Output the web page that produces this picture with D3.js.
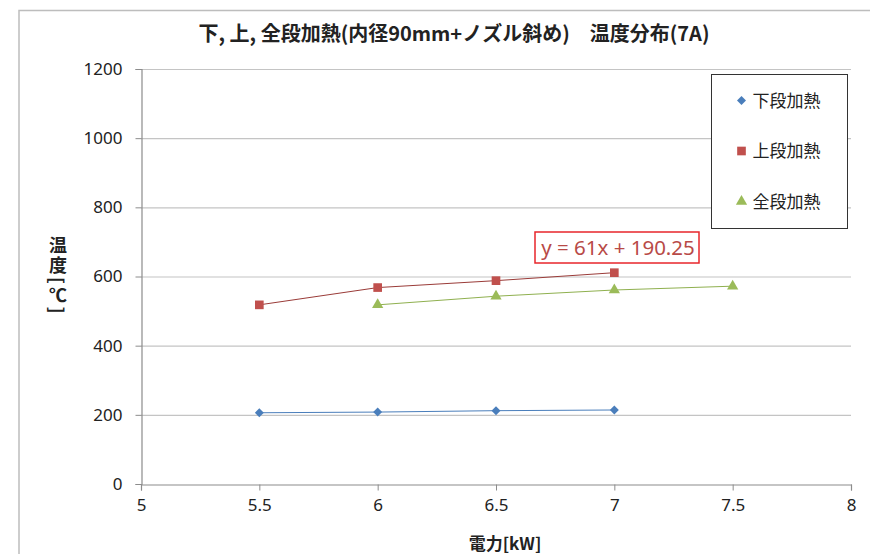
<!DOCTYPE html>
<html lang="ja">
<head>
<meta charset="utf-8">
<script src="https://d3js.org/d3.v7.min.js"></script>
<style>
  body { margin: 0; background: #fff; }
  svg { display: block; }
  .tick text { font-family: "Noto Sans", sans-serif; font-size: 17px; fill: #222; }
  .ytitle { writing-mode: vertical-rl; text-orientation: mixed; letter-spacing: 2.5px; }
</style>
</head>
<body>
<svg id="chart" width="870" height="554"></svg>
<script>
// data
const seriesNames = ["下段加熱", "上段加熱", "全段加熱"];
const lowerX = [5.5, 6, 6.5, 7];
const lowerY = [206, 208, 212, 214];
const upperX = [5.5, 6, 6.5, 7];
const upperY = [518, 568, 588, 611];
const allX = [6, 6.5, 7, 7.5];
const allY = [518, 543, 561, 572];
const xTicks = [5, 5.5, 6, 6.5, 7, 7.5, 8];
const yTicks = [0, 200, 400, 600, 800, 1000, 1200];
const trendText = "y = 61x + 190.25";

const svg = d3.select("#chart");
const margin = {left: 141, right: 19, top: 69, bottom: 70};
const W = 870, H = 554;
const jp = "Noto Sans CJK JP, sans-serif";

// outer chart frame
svg.append("path")
  .attr("d", `M19,${H} V10.5 H${W}`)
  .attr("fill", "none").attr("stroke", "#bdbdbd").attr("stroke-width", 1.5);

const x = d3.scaleLinear().domain([5, 8]).range([margin.left, W - margin.right]);
const y = d3.scaleLinear().domain([0, 1200]).range([H - margin.bottom, margin.top]);

// gridlines
svg.append("g").selectAll("line").data(yTicks.slice(1)).join("line")
  .attr("x1", x(5)).attr("x2", x(8))
  .attr("y1", d => y(d) + 0.5).attr("y2", d => y(d) + 0.5)
  .attr("stroke", "#c4c4c4").attr("stroke-width", 1.2);

// axes
const xAxis = svg.append("g").attr("transform", `translate(0,${y(0) + 0.5})`)
  .call(d3.axisBottom(x).tickValues(xTicks).tickSize(6).tickPadding(8).tickFormat(d3.format("")));
const yAxis = svg.append("g").attr("transform", `translate(${x(5) + 0.5},0)`)
  .call(d3.axisLeft(y).tickValues(yTicks).tickSize(6).tickPadding(13).tickFormat(d3.format("")));
[xAxis, yAxis].forEach(a => {
  a.select(".domain").attr("stroke", "#8c8c8c").attr("stroke-width", 1.2);
  a.selectAll(".tick line").attr("stroke", "#8c8c8c");
});

const diamond = {draw(ctx, size) { const r = Math.sqrt(size / 2); ctx.moveTo(0, -r); ctx.lineTo(r, 0); ctx.lineTo(0, r); ctx.lineTo(-r, 0); ctx.closePath(); }};

const series = [
  {name: seriesNames[0], xs: lowerX, ys: lowerY, color: "#4a7ebb", line: "#4a7ebb", shape: diamond, size: 40},
  {name: seriesNames[1], xs: upperX, ys: upperY, color: "#c0504d", line: "#9a3b38", shape: d3.symbolSquare, size: 75},
  {name: seriesNames[2], xs: allX, ys: allY, color: "#9bbb59", line: "#8fb04f", shape: d3.symbolTriangle, size: 55}
];

const line = d3.line().x(d => x(d[0])).y(d => y(d[1]));
series.forEach(s => {
  const pts = s.xs.map((v, i) => [v, s.ys[i]]);
  svg.append("path").datum(pts).attr("d", line)
    .attr("fill", "none").attr("stroke", s.line).attr("stroke-width", 1);
  svg.append("g").selectAll("path").data(pts).join("path")
    .attr("transform", d => `translate(${x(d[0])},${y(d[1])})`)
    .attr("d", d3.symbol().type(s.shape).size(s.size))
    .attr("fill", s.color);
});

// trendline label
const tb = svg.append("g").attr("transform", "translate(535,232)");
tb.append("rect").attr("width", 164).attr("height", 31)
  .attr("fill", "#fff").attr("stroke", "#e8262b").attr("stroke-width", 1.5);
tb.append("text").attr("x", 83).attr("y", 23).attr("text-anchor", "middle")
  .attr("font-family", "Noto Sans, sans-serif").attr("font-size", 20.5).attr("fill", "#b84a47")
  .text(trendText);

// legend
const lg = svg.append("g").attr("transform", "translate(711.5,74.5)");
lg.append("rect").attr("width", 136).attr("height", 154)
  .attr("fill", "#fff").attr("stroke", "#333").attr("stroke-width", 1);
series.forEach((s, i) => {
  const cy = 26 + i * 50.5;
  lg.append("path").attr("transform", `translate(30,${cy})`)
    .attr("d", d3.symbol().type(s.shape).size(s.size)).attr("fill", s.color);
  lg.append("text").attr("x", 41).attr("y", cy + 6)
    .attr("font-family", jp).attr("font-size", 17).attr("fill", "#222")
    .text(s.name);
});

// title
svg.append("text").attr("x", 454).attr("y", 41).attr("text-anchor", "middle")
  .attr("font-family", jp).attr("font-size", 20)
  .attr("font-weight", "bold").attr("fill", "#222")
  .text("下, 上, 全段加熱(内径90mm+ノズル斜め)　温度分布(7A)");

// axis titles
svg.append("text").attr("x", 505).attr("y", 550).attr("text-anchor", "middle")
  .attr("font-family", jp).attr("font-size", 17)
  .attr("font-weight", "bold").attr("fill", "#222").text("電力[kW]");

// vertical y title (vertical writing mode: kanji upright, brackets turned)
svg.append("text").attr("class", "ytitle")
  .attr("x", 58).attr("y", 236)
  .attr("font-family", jp).attr("font-size", 18)
  .attr("font-weight", "bold").attr("fill", "#222")
  .text("温度[℃]");
</script>
</body>
</html>
